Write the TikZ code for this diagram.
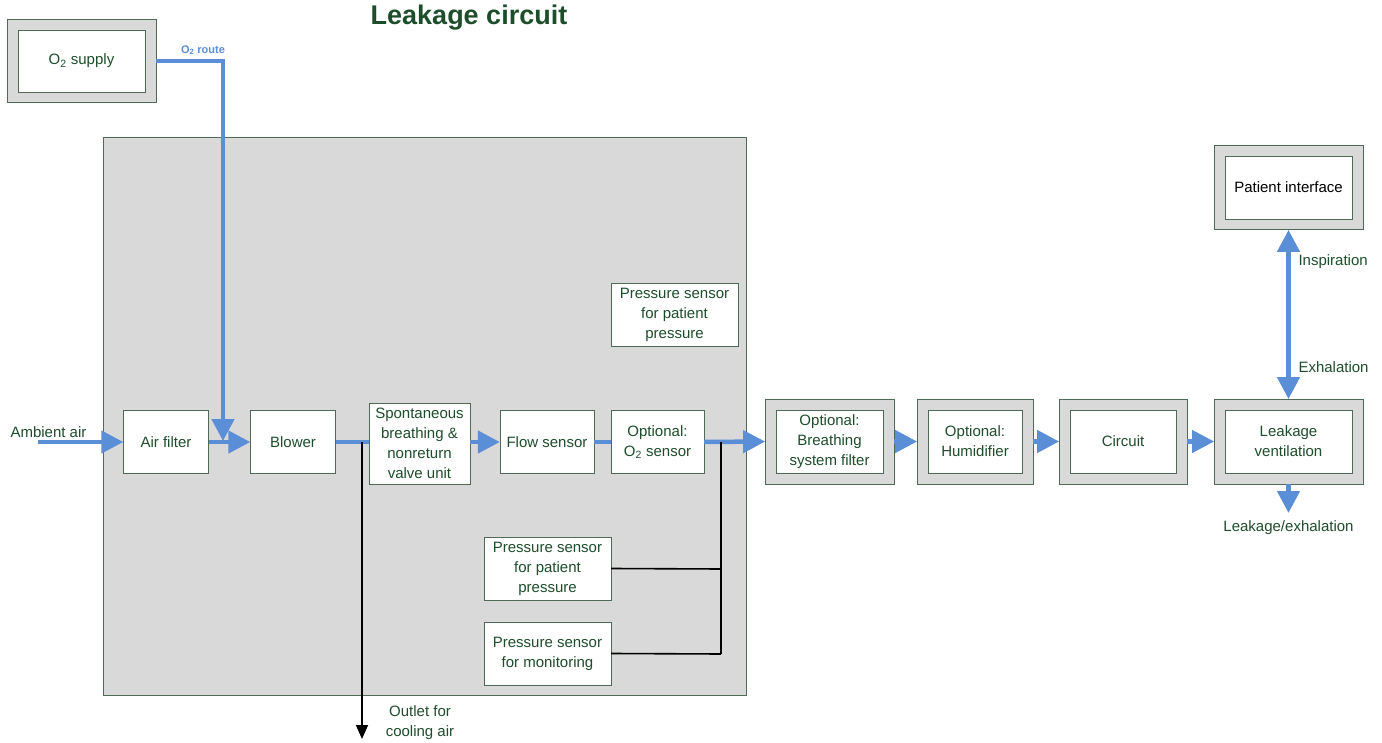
\documentclass[tikz,border=0pt]{standalone}
\usepackage{fontspec}
\setmainfont{Liberation Sans}
\usepackage{tikz}
\usetikzlibrary{arrows.meta,positioning,fit}
\definecolor{boxgrey}{HTML}{D9D9D9}
\definecolor{edge}{HTML}{4F6B57}
\definecolor{txt}{HTML}{1E4D2B}
\definecolor{flowblue}{HTML}{5A8ED6}
\newcommand{\lbl}{\fontsize{15}{20}\selectfont}

\begin{document}
\begin{tikzpicture}[x=1pt,y=-1pt,>=Stealth,
  unit/.style={draw=edge,fill=white,font=\lbl,text=txt,align=center,minimum width=85pt,minimum height=63pt,inner sep=1pt},
  frame/.style={draw=edge,fill=boxgrey,inner sep=10.5pt},
  pipe/.style={draw=flowblue,line width=4.5pt},
  flow/.style={pipe,-{Triangle[length=22pt,width=22pt]}},
  wire/.style={draw=black,line width=1.6pt},
  note/.style={font=\lbl,text=txt,align=center}]
  \useasboundingbox (0,0) rectangle (1382,743);
  \node[font=\fontsize{27}{30}\selectfont\bfseries,text=txt] (title) at (469,18) {Leakage circuit};
  % device housing
  \node[draw=edge,fill=boxgrey,minimum width=643pt,minimum height=558pt] (housing) at (424.5,416) {};
  \node[unit,minimum width=127pt,minimum height=62pt] (o2) at (81.5,61) {O\textsubscript{2} supply};
  \node[frame,fit=(o2)] (o2-o) {};
  \node[unit,minimum width=127pt,minimum height=62pt] at (o2) {O\textsubscript{2} supply};
  \node[unit] (filter) at (166,442) {Air filter};
  \node[unit] (blower) at (293,442) {Blower};
  \node[unit,minimum width=101pt,minimum height=81pt] (valve) at (419.5,443.5) {Spontaneous\\breathing \&\\nonreturn\\valve unit};
  \node[unit,minimum width=94pt] (flowsens) at (547,442) {Flow sensor};
  \node[unit,minimum width=93pt] (o2sens) at (657.5,442) {Optional:\\O\textsubscript{2} sensor};
  \node[unit,minimum width=127pt] (pstop) at (674.5,314.5) {Pressure sensor\\for patient\\pressure};
  \node[unit,minimum width=127pt] (pspat) at (547.5,568.5) {Pressure sensor\\for patient\\pressure};
  \node[unit,minimum width=127pt] (psmon) at (547.5,653.5) {Pressure sensor\\for monitoring};
  % outside the housing
  \node[unit,minimum width=107pt] (bsf) at (829.5,441.5) {Optional:\\Breathing\\system filter};
  \node[frame,fit=(bsf)] (bsf-o) {};
  \node[unit,minimum width=107pt] at (bsf) {Optional:\\Breathing\\system filter};
  \node[unit,minimum width=94pt] (humid) at (975,441.5) {Optional:\\Humidifier};
  \node[frame,fit=(humid)] (humid-o) {};
  \node[unit,minimum width=94pt] at (humid) {Optional:\\Humidifier};
  \node[unit,minimum width=106pt] (circ) at (1123,441.5) {Circuit};
  \node[frame,fit=(circ)] (circ-o) {};
  \node[unit,minimum width=106pt] at (circ) {Circuit};
  \node[unit,minimum width=127pt] (leak) at (1288.5,441.5) {Leakage\\ventilation};
  \node[frame,fit=(leak)] (leak-o) {};
  \node[unit,minimum width=127pt] at (leak) {Leakage\\ventilation};
  \node[unit,minimum width=127pt,text=black] (pif) at (1288.5,187.5) {Patient interface};
  \node[frame,fit=(pif)] (pif-o) {};
  \node[unit,minimum width=127pt,text=black] at (pif) {Patient interface};
  % labels and free ends
  \node[note,anchor=west] (ambient) at (7,432) {Ambient air};
  \coordinate (amb) at (38,442);
  \node[font=\fontsize{11}{12}\selectfont\bfseries,text=flowblue] (o2lbl) at (203,50) {O\textsubscript{2} route};
  \coordinate (o2bend) at (223,61);
  \coordinate (o2in) at (223,441);
  \coordinate (split) at (362,442);
  \coordinate (outlet) at (362,739);
  \node[note] (outlbl) at (420,723) {Outlet for\\cooling air};
  \coordinate (tap) at (721,442);
  \coordinate (j1) at (721,569);
  \coordinate (j2) at (721,654);
  \node[note,anchor=west] (insp) at (1295,262) {Inspiration};
  \node[note,anchor=west] (exh) at (1295,367) {Exhalation};
  \coordinate (leakout) at (1288.5,513);
  \node[note] (leaklbl) at (1288.5,528) {Leakage/exhalation};
  % air path
  \draw[flow] (amb) -- (filter.west);
  \draw[flow] (filter.east) -- (blower.west);
  \draw[flow] (o2-o.east |- o2bend) -- (o2bend) -- (o2in);
  \draw[pipe] (blower.east) -- (valve.west |- blower.east);
  \draw[flow] (valve.east |- flowsens) -- (flowsens.west);
  \draw[pipe] (flowsens.east) -- (o2sens.west);
  \draw[flow] (o2sens.east) -- (bsf-o.west);
  \draw[flow] (bsf-o.east) -- (humid-o.west);
  \draw[flow] (humid-o.east) -- (circ-o.west);
  \draw[flow] (circ-o.east) -- (leak-o.west);
  \draw[pipe,{Triangle[length=22pt,width=22pt]}-{Triangle[length=22pt,width=22pt]}] (pif-o.south) -- (leak-o.north);
  \draw[flow] (leak-o.south) -- (leakout);
  % sensor lines and cooling outlet
  \draw[wire,-{Triangle[length=14pt,width=12pt]}] (split) -- (outlet);
  \draw[wire] (tap) -- (j2);
  \draw[wire] (pspat.east) -- (j1);
  \draw[wire] (psmon.east) -- (j2);
\end{tikzpicture}
\end{document}
